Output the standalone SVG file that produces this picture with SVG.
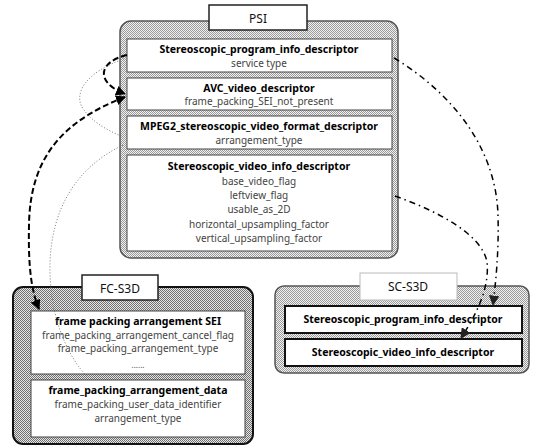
<svg xmlns="http://www.w3.org/2000/svg" width="534" height="447" viewBox="0 0 534 447">
<defs>
<pattern id="hatch" width="2" height="2" patternUnits="userSpaceOnUse">
<rect width="2" height="2" fill="#f2f2f2"/>
<rect width="1" height="1" fill="#999"/>
<rect x="1" y="1" width="1" height="1" fill="#999"/>
</pattern>
<pattern id="hatchdark" width="2" height="2" patternUnits="userSpaceOnUse">
<rect width="2" height="2" fill="#e6e6e6"/>
<rect width="1" height="1" fill="#707070"/>
<rect x="1" y="1" width="1" height="1" fill="#707070"/>
</pattern>
<marker id="arr" viewBox="0 0 10 10" refX="9" refY="5" markerWidth="5" markerHeight="5" orient="auto-start-reverse" markerUnits="strokeWidth">
<path d="M0,0 L10,5 L0,10 z" fill="#000"/>
</marker>
<marker id="arrs" viewBox="0 0 10 10" refX="9" refY="5" markerWidth="7" markerHeight="7" orient="auto-start-reverse" markerUnits="strokeWidth">
<path d="M0,0 L10,5 L0,10 z" fill="#222"/>
</marker>
</defs>
<style>
.outer{fill:url(#hatch);stroke:#555;stroke-width:1.5}
.outerdark{fill:url(#hatchdark);stroke:#111;stroke-width:2}
.row{fill:#fff;stroke:#444;stroke-width:1}
.title{fill:#fff;stroke:#222;stroke-width:1.5}
.tt{font-family:"Noto Sans","Liberation Sans",sans-serif;font-size:12px;fill:#111;text-anchor:middle}
.b{font-family:"Noto Sans","Liberation Sans",sans-serif;font-size:10.5px;font-weight:bold;fill:#000;text-anchor:middle}
.r{font-family:"Noto Sans","Liberation Sans",sans-serif;font-size:10px;fill:#444;text-anchor:middle}
.thick{fill:none;stroke:#000;stroke-width:2;stroke-dasharray:6 3}
.dot{fill:none;stroke:#777;stroke-width:1;stroke-dasharray:1 2}
.dd{fill:none;stroke:#000;stroke-width:1.5;stroke-dasharray:6 4 1.5 4}
</style>

<g id="psi">
<rect class="outer" x="120" y="21" width="278" height="237" rx="11"/>
<rect class="title" x="209" y="5" width="98" height="25"/>
<text class="tt" x="258" y="23">PSI</text>
<rect class="row" x="127" y="39" width="265" height="33"/>
<text class="b" x="259" y="53">Stereoscopic_program_info_descriptor</text>
<text class="r" x="259" y="67">service type</text>
<rect class="row" x="127" y="78" width="265" height="32"/>
<text class="b" x="259" y="92">AVC_video_descriptor</text>
<text class="r" x="259" y="105">frame_packing_SEI_not_present</text>
<rect class="row" x="127" y="116" width="265" height="33"/>
<text class="b" x="259" y="130">MPEG2_stereoscopic_video_format_descriptor</text>
<text class="r" x="259" y="144">arrangement_type</text>
<rect class="row" x="127" y="155" width="265" height="96"/>
<text class="b" x="259" y="170">Stereoscopic_video_info_descriptor</text>
<text class="r" x="259" y="185">base_video_flag</text>
<text class="r" x="259" y="199">leftview_flag</text>
<text class="r" x="259" y="213">usable_as_2D</text>
<text class="r" x="259" y="228">horizontal_upsampling_factor</text>
<text class="r" x="259" y="242">vertical_upsampling_factor</text>
</g>

<g id="fc-s3d">
<rect class="outerdark" x="13" y="287" width="240" height="157" rx="10"/>
<rect class="title" x="82" y="275" width="76" height="25"/>
<text class="tt" x="120" y="293">FC-S3D</text>
<rect class="row" x="31" y="311" width="214" height="63"/>
<text class="b" x="138" y="325">frame packing arrangement SEI</text>
<text class="r" x="138" y="339">frame_packing_arrangement_cancel_flag</text>
<text class="r" x="138" y="352">frame_packing_arrangement_type</text>
<text class="r" x="138" y="368" style="font-size:8px">......</text>
<rect class="row" x="31" y="380" width="214" height="57"/>
<text class="b" x="138" y="394">frame_packing_arrangement_data</text>
<text class="r" x="138" y="408">frame_packing_user_data_identifier</text>
<text class="r" x="138" y="422">arrangement_type</text>
</g>

<g id="sc-s3d">
<rect class="outer" x="275" y="286" width="254" height="87" rx="9"/>
<rect class="title" x="360" y="273" width="97" height="27" style="stroke:#bbb;stroke-width:1"/>
<text class="tt" x="408" y="291">SC-S3D</text>
<rect class="row" x="285" y="306" width="237" height="27" style="stroke:#111;stroke-width:2"/>
<text class="b" x="403" y="323">Stereoscopic_program_info_descriptor</text>
<rect class="row" x="285" y="339" width="237" height="27" style="stroke:#111;stroke-width:2"/>
<text class="b" x="403" y="356">Stereoscopic_video_info_descriptor</text>
</g>

<g id="connectors">
<path class="thick" d="M127,55 C 98,62 95,82 125,94" marker-end="url(#arr)"/>
<path class="thick" d="M125,97 C 60,122 30,160 29,225 C 28,270 32,292 39,309" marker-start="url(#arr)" marker-end="url(#arr)"/>
<path class="dot" d="M124,59 C 85,72 72,95 84,110 C 95,125 112,132 123,137"/>
<path class="dot" d="M123,145 C 75,168 52,210 50,262 C 49,300 58,345 88,378"/>
<path class="dd" d="M394,58 C 455,95 496,150 498,215 C 499,250 496,280 493,305" marker-end="url(#arrs)"/>
<path class="dd" d="M395,196 C 440,212 482,235 487,262 C 490,290 474,318 461,338" marker-end="url(#arrs)"/>
</g>
</svg>
